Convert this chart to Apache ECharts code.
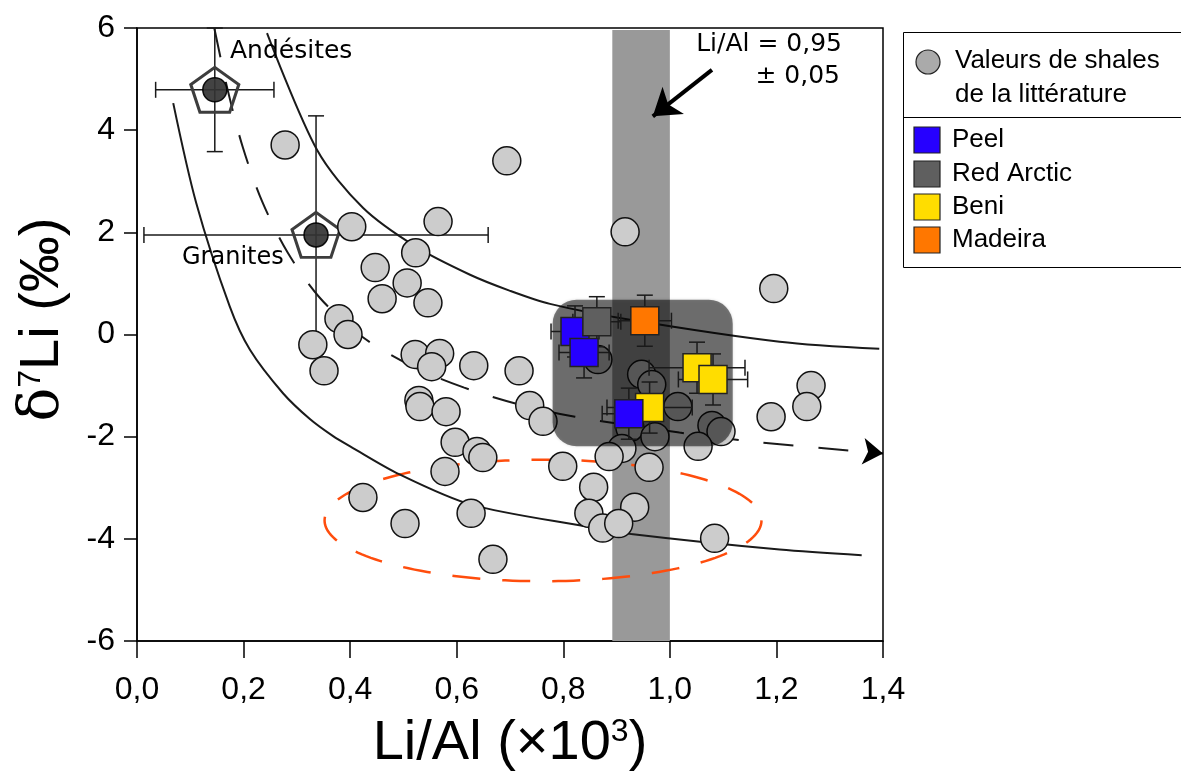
<!DOCTYPE html>
<html><head><meta charset="utf-8">
<script src="https://cdn.jsdelivr.net/npm/echarts@6/dist/echarts.min.js"></script>
<style>html,body{margin:0;padding:0;background:#fff}#c{width:1181px;height:774px}</style>
</head><body><div id="c"></div>
<script>
// ---------- data ----------
const xMin = 0, xMax = 1.4, xInterval = 0.2;
const yMin = -6, yMax = 6, yInterval = 2;

const shaleLiAl = [0.278,0.694,0.403,0.565,0.916,0.523,0.447,0.507,0.460,0.546,1.195,0.379,0.396,0.330,0.351,0.522,0.568,0.553,0.632,0.717,0.529,0.531,0.580,0.737,0.762,0.597,0.638,0.649,0.578,0.799,0.865,0.947,0.966,1.015,0.925,0.972,1.079,1.096,1.053,0.910,0.886,0.961,0.857,0.848,0.934,0.874,0.904,1.084,0.424,0.503,0.627,0.668,1.265,1.257,1.190];
const shaleD7Li = [3.71,3.40,2.11,2.21,2.01,1.60,1.31,1.01,0.70,0.62,0.90,0.31,0.00,-0.20,-0.71,-0.39,-0.37,-0.63,-0.61,-0.71,-1.29,-1.41,-1.51,-1.39,-1.70,-2.11,-2.29,-2.41,-2.68,-2.58,-0.49,-0.78,-0.98,-1.41,-1.82,-2.00,-1.78,-1.90,-2.19,-2.23,-2.39,-2.60,-2.99,-3.50,-3.38,-3.79,-3.70,-3.99,-3.19,-3.70,-3.50,-4.40,-1.00,-1.41,-1.61];

const peelLiAl = [0.822,0.839,0.923];
const peelD7Li = [0.06,-0.35,-1.55];
const peelErrX = [0.045,0.047,0.05];
const peelErrY = [0.5,0.5,0.5];

const redArcticLiAl = [0.863];
const redArcticD7Li = [0.25];
const redArcticErrX = [0.045];
const redArcticErrY = [0.49];

const beniLiAl = [1.051,1.081,0.962];
const beniD7Li = [-0.65,-0.88,-1.43];
const beniErrX = [0.09,0.065,0.08];
const beniErrY = [0.5,0.5,0.5];

const madeiraLiAl = [0.953];
const madeiraD7Li = [0.27];
const madeiraErrX = [0.05];
const madeiraErrY = [0.5];

const andesiteLiAl = [0.146], andesiteD7Li = [4.79], andesiteErrX = [0.111], andesiteErrY = [1.21];
const graniteLiAl = [0.336], graniteD7Li = [1.95], graniteErrX = [0.323], graniteErrY = [2.33];

const upperCurveLiAl = [0.244,0.338,0.424,0.523,0.625,0.699,0.775,0.925,1.206,1.393];
const upperCurveD7Li = [5.90,3.61,2.48,1.72,1.17,0.86,0.60,0.29,-0.14,-0.28];

const lowerCurveLiAl = [0.068,0.111,0.174,0.212,0.274,0.325,0.368,0.400,0.493,0.627,0.844,0.931,1.206,1.360];
const lowerCurveD7Li = [4.53,2.58,0.55,-0.30,-1.15,-1.66,-1.99,-2.19,-2.74,-3.33,-3.76,-3.91,-4.21,-4.32];

const trendLiAl = [0.145,0.171,0.199,0.235,0.283,0.343,0.422,0.514,0.614,0.717,0.822,1.018,1.169,1.381];
const trendD7Li = [6.00,4.75,3.65,2.60,1.60,0.72,-0.04,-0.61,-1.04,-1.37,-1.61,-1.92,-2.11,-2.31];
const trendArrowLiAl = [1.375,1.400];
const trendArrowD7Li = [-2.30,-2.33];

const bandLiAl = [0.892,1.0];
const boxLiAl = [0.78,1.118];
const boxD7Li = [0.68,-2.19];
const ellipseCenter = [0.762,-3.64];
const ellipseRadii = [0.41,1.19];

const bandArrowLiAl = [1.079,0.968];
const bandArrowD7Li = [5.18,4.27];

// ---------- helpers ----------
const zip = (a, b) => a.map((v, i) => [v, b[i]]);
const zip4 = (a, b, c, d) => a.map((v, i) => [v, b[i], c[i], d[i]]);
const SANS = 'Liberation Sans, Arial, Helvetica, sans-serif';
const VERA = 'DejaVu Sans, Verdana, sans-serif';

function errRender(params, api) {
  const x = api.value(0), y = api.value(1), xe = api.value(2), ye = api.value(3);
  const c = api.coord([x, y]);
  const l = api.coord([x - xe, y]), r = api.coord([x + xe, y]);
  const t = api.coord([x, y + ye]), b = api.coord([x, y - ye]);
  const h = 8;
  const st = { stroke: '#1a1a1a', lineWidth: 1.5, fill: null };
  const L = (x1, y1, x2, y2) => ({ type: 'line', shape: { x1, y1, x2, y2 }, style: st });
  return { type: 'group', children: [
    L(l[0], c[1], r[0], c[1]), L(c[0], t[1], c[0], b[1]),
    L(l[0], c[1] - h, l[0], c[1] + h), L(r[0], c[1] - h, r[0], c[1] + h),
    L(c[0] - h, t[1], c[0] + h, t[1]), L(c[0] - h, b[1], c[0] + h, b[1])
  ]};
}

const errData = [].concat(
  zip4(peelLiAl, peelD7Li, peelErrX, peelErrY),
  zip4(redArcticLiAl, redArcticD7Li, redArcticErrX, redArcticErrY),
  zip4(beniLiAl, beniD7Li, beniErrX, beniErrY),
  zip4(madeiraLiAl, madeiraD7Li, madeiraErrX, madeiraErrY)
);
const refErrData = [].concat(
  zip4(andesiteLiAl, andesiteD7Li, andesiteErrX, andesiteErrY),
  zip4(graniteLiAl, graniteD7Li, graniteErrX, graniteErrY)
);

const pentagon = 'path://M50,0 L97.55,34.55 L79.39,90.45 L20.61,90.45 L2.45,34.55 Z';

const squareStyle = (col) => ({ color: col, borderColor: '#222', borderWidth: 1.5, opacity: 1 });
const curveLine = { color: '#1a1a1a', width: 2 };

const chart = echarts.init(document.getElementById('c'), null, { renderer: 'canvas' });
chart.setOption({
  animation: false,
  backgroundColor: '#fff',
  grid: { left: 137, right: 298, top: 28, bottom: 133, outerBoundsMode: 'none', containLabel: false,
    show: true, borderColor: '#000', borderWidth: 1.5, backgroundColor: 'transparent' },
  xAxis: {
    type: 'value', min: xMin, max: xMax, interval: xInterval,
    axisLine: { show: true, onZero: false, lineStyle: { color: '#000', width: 1.5 } },
    axisTick: { show: true, length: 17, lineStyle: { color: '#000', width: 1.5 } },
    splitLine: { show: false },
    axisLabel: { margin: 33, fontSize: 32, fontFamily: SANS, color: '#000',
      formatter: v => v.toFixed(1).replace('.', ',') },
    name: 'Li/Al (×10{s|3})', nameLocation: 'middle', nameGap: 75,
    nameTextStyle: { fontSize: 56, fontFamily: SANS, color: '#000',
      rich: { s: { fontSize: 32, fontFamily: SANS, color: '#000', verticalAlign: 'top' } } }
  },
  yAxis: {
    type: 'value', min: yMin, max: yMax, interval: yInterval,
    axisLine: { show: true, onZero: false, lineStyle: { color: '#000', width: 1.5 } },
    axisTick: { show: true, length: 13, lineStyle: { color: '#000', width: 1.5 } },
    splitLine: { show: false },
    axisLabel: { margin: 22, fontSize: 32, fontFamily: SANS, color: '#000' },
    name: '{d|δ}{s|7}Li (‰)', nameLocation: 'middle', nameGap: 66,
    nameTextStyle: { fontSize: 56, fontFamily: SANS, color: '#000', padding: [0, 0, 0, 30],
      rich: { d: { fontSize: 56, fontFamily: 'DejaVu Serif, Liberation Serif, serif', color: '#000' },
              s: { fontSize: 32, fontFamily: SANS, color: '#000', verticalAlign: 'top' } } }
  },
  series: [
    { // Li/Al band
      type: 'custom', z: 1, silent: true,
      data: [bandLiAl],
      renderItem: (p, api) => {
        const a = api.coord([api.value(0), yMax]), b = api.coord([api.value(1), yMin]);
        return { type: 'rect', shape: { x: a[0], y: a[1] + 2, width: b[0] - a[0], height: b[1] - a[1] - 2 },
          style: { fill: '#999999' } };
      }
    },
    { // orange ellipse
      type: 'custom', z: 2, silent: true,
      data: [[ellipseCenter[0], ellipseCenter[1], ellipseRadii[0], ellipseRadii[1]]],
      renderItem: (p, api) => {
        const c = api.coord([api.value(0), api.value(1)]);
        const s = api.size([api.value(2), api.value(3)]);
        const pts = [];
        for (let i = 0; i < 180; i++) { const t = i / 180 * Math.PI * 2; pts.push([c[0] + s[0] * Math.cos(t), c[1] + s[1] * Math.sin(t)]); }
        return { type: 'polygon', shape: { points: pts },
          style: { fill: null, stroke: '#ff4d0d', lineWidth: 2.5, lineDash: [28, 22] } };
      }
    },
    { type: 'line', z: 3, data: zip(upperCurveLiAl, upperCurveD7Li), smooth: 0.3, showSymbol: false, symbol: 'none',
      lineStyle: curveLine, silent: true },
    { type: 'line', z: 3, data: zip(lowerCurveLiAl, lowerCurveD7Li), smooth: 0.3, showSymbol: false, symbol: 'none',
      lineStyle: curveLine, silent: true },
    { type: 'line', z: 3, data: zip(trendLiAl, trendD7Li), smooth: 0.3, showSymbol: false, symbol: 'none',
      lineStyle: { color: '#1a1a1a', width: 2, type: [30, 25] }, silent: true,
      markLine: { silent: true, symbol: ['none', 'arrow'], symbolSize: 20, label: { show: false },
        lineStyle: { color: '#000', width: 2, type: 'solid' },
        data: [[{ coord: [trendArrowLiAl[0], trendArrowD7Li[0]] }, { coord: [trendArrowLiAl[1], trendArrowD7Li[1]] }]] } },
    { // reference error bars
      type: 'custom', z: 4, silent: true, data: refErrData, renderItem: errRender, encode: { x: 0, y: 1 } },
    { // pentagons
      type: 'scatter', z: 5, silent: true, data: [].concat(zip(andesiteLiAl, andesiteD7Li), zip(graniteLiAl, graniteD7Li)),
      symbol: pentagon, symbolSize: [48, 45], symbolKeepAspect: false,
      itemStyle: { color: 'rgba(255,255,255,0)', borderColor: '#3d3d3d', borderWidth: 3, opacity: 1 } },
    { type: 'scatter', z: 5, silent: true, data: [].concat(zip(andesiteLiAl, andesiteD7Li), zip(graniteLiAl, graniteD7Li)),
      symbol: 'circle', symbolSize: 24, itemStyle: { color: '#333', borderColor: '#000', borderWidth: 1.5, opacity: 0.92 } },
    { // shales
      type: 'scatter', z: 6, name: 'Valeurs de shales de la littérature', data: zip(shaleLiAl, shaleD7Li),
      symbol: 'circle', symbolSize: 28, itemStyle: { color: '#cccccc', borderColor: '#111', borderWidth: 1.5, opacity: 1 } },
    { // dark rounded box
      type: 'custom', z: 7, silent: true, data: [[boxLiAl[0], boxD7Li[0], boxLiAl[1], boxD7Li[1]]],
      renderItem: (p, api) => {
        const a = api.coord([api.value(0), api.value(1)]), b = api.coord([api.value(2), api.value(3)]);
        return { type: 'rect', shape: { x: a[0], y: a[1], width: b[0] - a[0], height: b[1] - a[1], r: 24 },
          style: { fill: 'rgba(0,0,0,0.5)', shadowBlur: 3, shadowColor: 'rgba(0,0,0,0.3)' } };
      }
    },
    { type: 'custom', z: 8, silent: true, data: errData, renderItem: errRender, encode: { x: 0, y: 1 } },
    { type: 'scatter', z: 9, name: 'Beni', data: zip(beniLiAl, beniD7Li), symbol: 'rect', symbolSize: 28, itemStyle: squareStyle('#ffdd00') },
    { type: 'scatter', z: 9, name: 'Peel', data: zip(peelLiAl, peelD7Li), symbol: 'rect', symbolSize: 28, itemStyle: squareStyle('#2600ff') },
    { type: 'scatter', z: 9, name: 'Red Arctic', data: zip(redArcticLiAl, redArcticD7Li), symbol: 'rect', symbolSize: 28, itemStyle: squareStyle('#5f5f5f') },
    { type: 'scatter', z: 9, name: 'Madeira', data: zip(madeiraLiAl, madeiraD7Li), symbol: 'rect', symbolSize: 28, itemStyle: squareStyle('#ff7700') },
    { // band annotation arrow
      type: 'line', z: 10, data: [], silent: true,
      markLine: { silent: true, symbol: ['none', 'arrow'], symbolSize: 26, label: { show: false },
        lineStyle: { color: '#000', width: 4, type: 'solid' },
        data: [[{ coord: [bandArrowLiAl[0], bandArrowD7Li[0]] }, { coord: [bandArrowLiAl[1], bandArrowD7Li[1]] }]] } }
  ],
  graphic: [
    { type: 'text', left: 230, top: 39, style: { text: 'Andésites', font: '25px ' + VERA, fill: '#000' }, z: 20 },
    { type: 'text', left: 182, top: 246, style: { text: 'Granites', font: '24px ' + VERA, fill: '#000' }, z: 20 },
    { type: 'text', right: 1181 - 842, top: 32, style: { text: 'Li/Al = 0,95', font: '25px ' + VERA, fill: '#000', textAlign: 'right' }, z: 20 },
    { type: 'text', right: 1181 - 840, top: 64, style: { text: '± 0,05', font: '25px ' + VERA, fill: '#000', textAlign: 'right' }, z: 20 },
    // legend
    { type: 'rect', shape: { x: 903.5, y: 32.5, width: 300, height: 235 }, style: { fill: '#fff', stroke: '#000', lineWidth: 1 }, z: 20 },
    { type: 'line', shape: { x1: 903.5, y1: 117.5, x2: 1181, y2: 117.5 }, style: { stroke: '#000', lineWidth: 1 }, z: 21 },
    { type: 'circle', shape: { cx: 928, cy: 62, r: 12 }, style: { fill: '#aaaaaa', stroke: '#222', lineWidth: 1.2 }, z: 21 },
    { type: 'text', x: 955, y: 48, style: { text: 'Valeurs de shales', font: '26px ' + SANS, fill: '#000' }, z: 21 },
    { type: 'text', x: 955, y: 82, style: { text: 'de la littérature', font: '26px ' + SANS, fill: '#000' }, z: 21 },
    { type: 'rect', shape: { x: 914, y: 127, width: 26, height: 26 }, style: { fill: '#2600ff', stroke: '#222', lineWidth: 1.2 }, z: 21 },
    { type: 'text', x: 952, y: 127, style: { text: 'Peel', font: '26px ' + SANS, fill: '#000' }, z: 21 },
    { type: 'rect', shape: { x: 914, y: 161, width: 26, height: 26 }, style: { fill: '#5f5f5f', stroke: '#222', lineWidth: 1.2 }, z: 21 },
    { type: 'text', x: 952, y: 161, style: { text: 'Red Arctic', font: '26px ' + SANS, fill: '#000' }, z: 21 },
    { type: 'rect', shape: { x: 914, y: 194, width: 26, height: 26 }, style: { fill: '#ffdd00', stroke: '#222', lineWidth: 1.2 }, z: 21 },
    { type: 'text', x: 952, y: 194, style: { text: 'Beni', font: '26px ' + SANS, fill: '#000' }, z: 21 },
    { type: 'rect', shape: { x: 914, y: 227, width: 26, height: 26 }, style: { fill: '#ff7700', stroke: '#222', lineWidth: 1.2 }, z: 21 },
    { type: 'text', x: 952, y: 227, style: { text: 'Madeira', font: '26px ' + SANS, fill: '#000' }, z: 21 }
  ]
});
</script>
</body></html>
